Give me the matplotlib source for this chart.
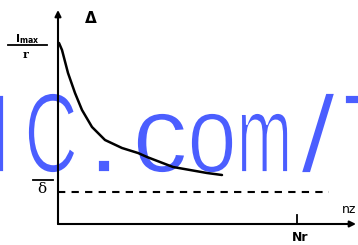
import matplotlib
matplotlib.use("Agg")
import matplotlib.pyplot as plt
from matplotlib.textpath import TextPath
from matplotlib.patches import PathPatch
from matplotlib.font_manager import FontProperties
from matplotlib.transforms import Affine2D

# ---- data (curve; x along n axis, y above n axis) ----
curve_x = [1, 4, 10, 17, 24, 34, 47, 64, 80, 89, 102, 115, 132, 149, 164]
curve_y = [181, 174, 151, 131, 114, 97, 84, 76, 71, 67, 62, 57, 54, 51, 49]
delta_level = 32          # dashed δ level
dashed_x_end = 271
nr_position = 239         # position of Nr tick
x_axis_end = 298
y_axis_end = 214

wm_chars = ['I', 'C', '.', 'c', 'o', 'm', '/', 'T']
# boxes in pixel coords (left, right, top, bottom)
wm_boxes = [(-4, 4, 95, 172), (28, 75, 93, 173), (98, 110, 160, 172),
            (137, 185, 113, 173), (191, 233, 113, 173), (241, 288, 113, 172),
            (301, 335, 93, 173), (345, 395, 95, 172)]
wm_color = "#4b5eff"

W, H = 358, 245
OX, OY = 58, 224  # pixel location of origin

fig = plt.figure(figsize=(W / 100, H / 100), dpi=100)
ax = fig.add_axes([0, 0, 1, 1])
ax.set_xlim(-OX, W - OX)
ax.set_ylim(-(H - OY), OY)
ax.axis('off')

# watermark (under the drawing)
fp = FontProperties(family='Liberation Sans')
for ch, (l, r, t, b) in zip(wm_chars, wm_boxes):
    p = TextPath((0, 0), ch, size=1, prop=fp)
    ext = p.get_extents()
    x0, x1 = l - OX, r - OX
    y0, y1 = OY - b, OY - t
    tr = (Affine2D().translate(-ext.x0, -ext.y0)
          .scale((x1 - x0) / ext.width, (y1 - y0) / ext.height)
          .translate(x0, y0))
    ax.add_patch(PathPatch(tr.transform_path(p), facecolor=wm_color,
                           edgecolor='white', lw=1.3, zorder=1))

# axes with arrows
ax.annotate('', xy=(0, y_axis_end), xytext=(0, 0),
            arrowprops=dict(arrowstyle='-|>', lw=1.5, color='black',
                            mutation_scale=9, shrinkA=0, shrinkB=0), zorder=3)
ax.annotate('', xy=(x_axis_end, 0), xytext=(0, 0),
            arrowprops=dict(arrowstyle='-|>', lw=1.5, color='black',
                            mutation_scale=9, shrinkA=0, shrinkB=0), zorder=3)

# Nr tick
ax.plot([nr_position, nr_position], [0, 9], color='black', lw=1.3, zorder=3)

# curve
ax.plot(curve_x, curve_y, color='black', lw=1.8, solid_capstyle='round',
        solid_joinstyle='round', zorder=3)

# dashed level line
ax.plot([0, dashed_x_end], [delta_level, delta_level], color='black', lw=1.5,
        dashes=(3.5, 3), zorder=3)

# labels
ax.text(91 - OX, OY - 19, 'Δ', fontsize=11, ha='center', va='center',
        family='DejaVu Sans', fontweight='bold', zorder=4)
ax.text(27 - OX, OY - 39, r'$\mathregular{I_{max}}$', fontsize=8,
        ha='center', va='center', fontweight='bold', zorder=4)
ax.plot([8 - OX, 47 - OX], [OY - 45, OY - 45], color='black', lw=1.3, zorder=4)
ax.text(26 - OX, OY - 55, 'r', fontsize=8, ha='center', va='center',
        family='DejaVu Serif', fontweight='bold', zorder=4)
ax.plot([33 - OX, 53 - OX], [OY - 180, OY - 180], color='black', lw=1.3, zorder=4)
ax.text(42 - OX, OY - 189, 'δ', fontsize=11, ha='center', va='center',
        family='DejaVu Serif', zorder=4)
ax.text(342 - OX, OY - 209, 'nz', fontsize=9, ha='left', va='center',
        family='DejaVu Sans', zorder=4)
ax.text(300 - OX, OY - 237, 'Nr', fontsize=9, ha='center', va='center',
        family='DejaVu Sans', fontweight='bold', zorder=4)

fig.savefig('out.png', dpi=100)
